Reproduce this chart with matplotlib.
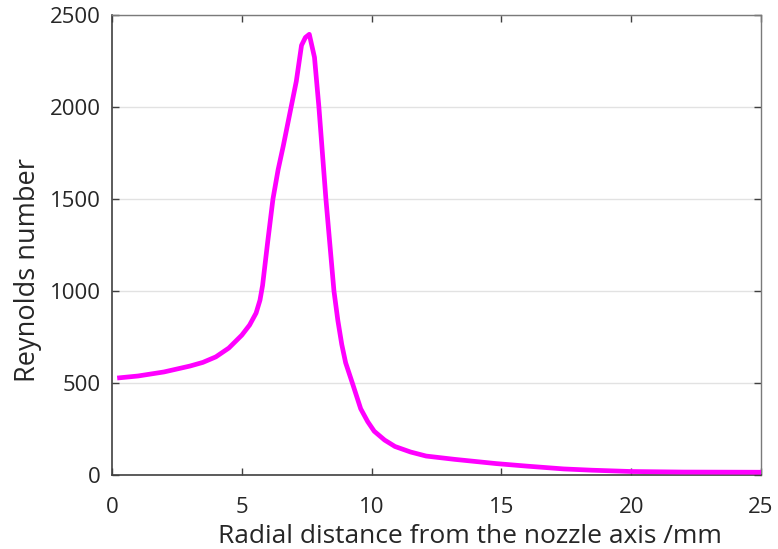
import matplotlib
matplotlib.use("Agg")
import matplotlib.pyplot as plt

radial_mm = [0.2, 1.0, 2.0, 3.0, 3.5, 4.0, 4.5, 5.0, 5.3, 5.55, 5.7, 5.8, 5.9, 6.0, 6.2, 6.4, 6.6, 6.9, 7.1, 7.3, 7.45, 7.6,
             7.8, 7.97, 8.24, 8.55, 8.7, 8.85, 9.0, 9.27, 9.58, 9.85, 10.1, 10.5, 10.9, 11.5, 12.1, 13.2, 14.8, 16.0, 17.4,
             18.5, 20.0, 22.0, 25.0]
reynolds = [527, 538, 560, 592, 612, 642, 690, 760, 815, 880, 950, 1030, 1150, 1270, 1500, 1660, 1790, 2000, 2140, 2335,
            2378, 2395, 2270, 2000, 1500, 1000, 840, 710, 610, 495, 360, 290, 238, 190, 155, 125, 103, 85, 62, 48, 33,
            26, 19, 16, 15]

x_ticks = [0, 5, 10, 15, 20, 25]
y_ticks = [0, 500, 1000, 1500, 2000, 2500]

plt.rcParams['font.family'] = ['Open Sans', 'DejaVu Sans']

fig = plt.figure(figsize=(7.78, 5.49), dpi=100)
ax = fig.add_axes([112 / 778, 1 - 475 / 549, 649 / 778, 460 / 549])

ax.plot(radial_mm, reynolds, color='#ff00ff', linewidth=3.4, solid_joinstyle='round', solid_capstyle='butt', zorder=3)

ax.set_xlim(0, 25)
ax.set_ylim(0, 2500)
ax.set_xticks(x_ticks)
ax.set_yticks(y_ticks)
ax.yaxis.grid(True, color='#e2e2e2', linewidth=1.0)
ax.set_axisbelow(True)

ax.tick_params(direction='in', top=True, right=True, length=5, width=1,
               labelsize=16, colors='#404040', labelcolor='#262626')
ax.tick_params(axis='x', pad=16)
ax.tick_params(axis='y', pad=8)
for side in ['left', 'bottom']:
    ax.spines[side].set_color('#404040')
    ax.spines[side].set_linewidth(1.2)
for side in ['top', 'right']:
    ax.spines[side].set_color('#7a7a7a')
    ax.spines[side].set_linewidth(1.0)

ax.set_xlabel('Radial distance from the nozzle axis /mm', fontsize=19, color='#262626', labelpad=4)
ax.set_ylabel('Reynolds number', fontsize=19.5, color='#262626', labelpad=6)
ax.xaxis.label.set_x(0.552)
ax.yaxis.label.set_y(0.446)

fig.savefig('out.png', dpi=100)
